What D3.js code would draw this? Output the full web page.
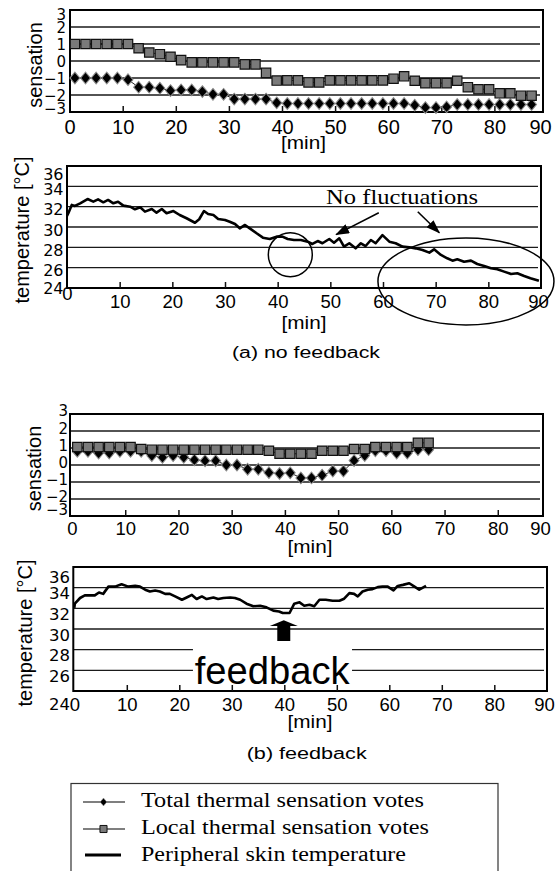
<!DOCTYPE html>
<html>
<head>
<meta charset="utf-8">
<script src="https://cdnjs.cloudflare.com/ajax/libs/d3/7.8.5/d3.min.js"></script>
<style>
  body { margin: 0; background: #fff; }
  svg text { fill: #000; }
</style>
</head>
<body>
<div id="chart"></div>
<script>
// ---- data ----
// (a) no feedback : sensation votes every 2 min
var minutesA = [1, 3, 5, 7, 9, 11, 13, 15, 17, 19, 21, 23, 25, 27, 29, 31, 33, 35, 37, 39, 41, 43,
                45, 47, 49, 51, 53, 55, 57, 59, 61, 63, 65, 67, 69, 71, 73, 75, 77, 79, 81, 83, 85, 87];
var totalA = [-1, -1, -1, -1, -1, -1.1, -1.54, -1.54, -1.6, -1.74, -1.7, -1.7, -1.8, -1.96, -1.96,
              -2.24, -2.24, -2.24, -2.24, -2.46, -2.5, -2.5, -2.5, -2.5, -2.5, -2.5, -2.5, -2.5, -2.5,
              -2.5, -2.5, -2.5, -2.6, -2.74, -2.74, -2.7, -2.56, -2.56, -2.56, -2.56, -2.56, -2.56, -2.56, -2.56];
var localA = [1, 1, 1, 1, 1, 1, 0.75, 0.5, 0.4, 0.25, 0.05, -0.08, -0.08, -0.08, -0.08, -0.08, -0.2,
              -0.2, -0.7, -1.15, -1.14, -1.14, -1.26, -1.26, -1.14, -1.14, -1.14, -1.14, -1.14, -1.14,
              -1.04, -0.9, -1.16, -1.3, -1.3, -1.3, -1.16, -1.54, -1.66, -1.66, -1.9, -1.9, -2.04, -2.04];
// (a) peripheral skin temperature
var skinTimeA = [0, 0.25, 0.9, 1.5, 2.5, 3.9, 5.0, 5.9, 6.9, 7.8, 8.8, 9.7, 10.7, 12, 12.9, 13.9, 14.8,
                 16.1, 17, 18, 18.9, 20.2, 21.4, 22.7, 24.3, 25.1, 26, 26.8, 27.8, 28.7, 30, 30.9, 31.9,
                 32.8, 33.8, 34.7, 36, 37.2, 38.5, 39.8, 40.9, 41.9, 43.1, 44.4, 45.7, 46.6, 47.6, 48.5,
                 49.8, 50.7, 51.7, 52.6, 53.6, 54.8, 55.8, 56.7, 57.7, 58.6, 59.9, 61.2, 62.4, 63.7, 65,
                 66.2, 67.5, 68.8, 69.7, 71, 72.2, 73.2, 74.1, 75.4, 76.7, 77.9, 79.2, 80.5, 81.7, 83,
                 84.3, 85.5, 86.8, 88, 89.6];
var skinTempA = [31.1, 31.35, 32.17, 32.07, 32.33, 32.75, 32.49, 32.72, 32.43, 32.66, 32.33, 32.49, 32.1,
                 32.0, 31.74, 31.94, 31.51, 31.77, 31.41, 31.77, 31.35, 31.57, 31.18, 30.86, 30.42, 30.76,
                 31.57, 31.28, 31.18, 30.79, 30.69, 30.52, 30.3, 29.87, 30.2, 29.87, 29.38, 28.95, 28.82,
                 29.05, 29.05, 28.82, 28.72, 28.72, 28.56, 28.33, 28.62, 28.4, 28.82, 28.46, 28.89, 28.07,
                 28.4, 27.9, 28.4, 28.13, 28.72, 28.4, 29.2, 28.56, 28.4, 28.07, 28.0, 27.9, 27.74, 27.48,
                 27.8, 27.25, 26.92, 26.69, 26.82, 26.59, 26.69, 26.36, 26.17, 25.94, 25.84, 25.61, 25.38,
                 25.45, 25.18, 24.96, 24.72];

// (b) feedback
var minutesB = [1, 3, 5, 7, 9, 11, 13, 15, 17, 19, 21, 23, 25, 27, 29, 31, 33, 35, 37, 39, 41, 43,
                45, 47, 49, 51, 53, 55, 57, 59, 61, 63, 65, 67];
var totalB = [0.8, 0.8, 0.7, 0.7, 0.8, 0.8, 0.8, 0.55, 0.45, 0.55, 0.45, 0.3, 0.25, 0.25, 0, 0, -0.25,
              -0.25, -0.45, -0.5, -0.46, -0.76, -0.76, -0.6, -0.36, -0.36, 0.26, 0.56, 0.84, 0.84, 0.7,
              0.7, 0.9, 0.9];
var localB = [1.06, 1.06, 1.06, 1.06, 1.06, 1.06, 0.94, 0.9, 0.9, 0.9, 0.9, 0.9, 0.9, 0.9, 0.9, 0.9,
              0.9, 0.9, 0.84, 0.66, 0.66, 0.66, 0.66, 0.84, 0.84, 0.84, 0.94, 0.94, 1.06, 1.06, 1.06,
              1.06, 1.3, 1.3];
var skinTimeB = [0, 0.1, 1.1, 2.0, 3.0, 3.9, 4.7, 5.5, 6.5, 7.75, 9.0, 10.3, 11.6, 12.5, 13.5, 14.4, 15.4,
                 16.3, 17.3, 18.2, 19.2, 20.5, 21.4, 22.4, 23.3, 24.3, 25.2, 26.5, 27.4, 28.4, 29.7, 30.6,
                 31.6, 32.8, 34.1, 35.4, 36.6, 37.9, 39.0, 39.7, 41, 41.9, 42.9, 43.8, 44.8, 45.7, 46.7,
                 47.9, 49.2, 50.5, 51.4, 52.4, 53.3, 54, 54.9, 55.9, 56.8, 57.8, 58.7, 59.7, 60.8, 61.6,
                 62.6, 63.8, 64.8, 65.7, 67];
var skinTempB = [32.04, 32.45, 33.0, 33.25, 33.25, 33.25, 33.53, 33.4, 34.1, 34.1, 34.33, 34.1, 34.17,
                 34.1, 33.8, 33.63, 33.73, 33.63, 33.4, 33.4, 33.15, 32.83, 33.05, 33.3, 32.9, 33.15, 32.9,
                 33.05, 32.9, 33.0, 33.05, 33.0, 32.83, 32.45, 32.2, 32.25, 32.1, 31.78, 31.7, 31.55, 31.55,
                 32.45, 32.58, 32.25, 32.35, 32.2, 32.83, 32.83, 32.74, 32.74, 32.93, 33.47, 33.4, 33.15,
                 33.63, 33.8, 33.86, 34.05, 34.1, 34.1, 33.73, 34.17, 34.27, 34.43, 34.1, 33.8, 34.17];

// tick labels
var sensTicks = [3, 2, 1, 0, -1, -2, -3];
var tempTicks = [36, 34, 32, 30, 28, 26, 24];
var minTicks = [0, 10, 20, 30, 40, 50, 60, 70, 80, 90];
var legendLabels = ["Total thermal sensation votes", "Local thermal sensation votes", "Peripheral skin temperature"];

var sans = "'Liberation Sans', Arial, Helvetica, sans-serif";
var serif = "'Liberation Serif', 'Times New Roman', serif";
var digits = "'DejaVu Sans', sans-serif";

var svg = d3.select("#chart").append("svg")
    .attr("width", 556)
    .attr("height", 871)
    .style("font-family", sans);

svg.append("defs").append("marker")
    .attr("id", "head")
    .attr("markerUnits", "userSpaceOnUse")
    .attr("markerWidth", 14).attr("markerHeight", 10)
    .attr("refX", 13).attr("refY", 5)
    .attr("orient", "auto")
  .append("path")
    .attr("d", "M0,0L14,5L0,10Z")
    .attr("fill", "#000");

// x axis with small inner ticks, labels below
function addXAxis(g, x, cfg) {
    var ax = g.append("g")
        .attr("transform", `translate(0,${cfg.bottom})`)
        .call(d3.axisBottom(x).tickValues(minTicks).tickFormat(d3.format("d"))
              .tickSizeInner(-6).tickSizeOuter(0).tickPadding(cfg.xPad));
    ax.attr("font-family", null).attr("font-size", null);
    ax.select(".domain").remove();
    ax.selectAll(".tick line").attr("stroke", "#111").attr("stroke-width", 1.5);
    ax.selectAll(".tick line").filter(d => d === 0 || x(d) > cfg.right - 2).remove();
    // keep the last label inside the page
    ax.selectAll(".tick text")
        .style("font-family", sans)
        .style("font-size", cfg.xFont + "px")
        .attr("dx", d => Math.min(0, cfg.right - 3 - x(d)))
        .attr("y", d => cfg.xPad + (cfg.xRaise ? cfg.xRaise(d) : 0));
}

// y axis, labels only
function addYAxis(g, y, ticks, cfg) {
    var ax = g.append("g")
        .attr("transform", `translate(${cfg.left},0)`)
        .call(d3.axisLeft(y).tickValues(ticks).tickFormat(d3.format("d")).tickSize(0).tickPadding(cfg.yPad));
    ax.attr("font-family", null).attr("font-size", null);
    ax.select(".domain").remove();
    ax.selectAll(".tick text")
        .style("font-family", digits)
        .style("font-size", cfg.yFont + "px")
        .attr("y", cfg.yShift);
}

function addGrid(g, y, values, cfg) {
    g.append("g").selectAll("line")
        .data(values)
        .enter().append("line")
        .attr("x1", cfg.left).attr("x2", cfg.right - 3)
        .attr("y1", d => y(d)).attr("y2", d => y(d))
        .attr("stroke", "#1a1a1a")
        .attr("stroke-width", 1.3);
}

function addFrame(g, cfg) {
    g.append("rect")
        .attr("x", cfg.left).attr("y", cfg.top)
        .attr("width", cfg.right - cfg.left).attr("height", cfg.bottom - cfg.top)
        .attr("fill", "none").attr("stroke", "#000").attr("stroke-width", 2);
}

function addTitles(g, cfg, title) {
    g.append("text")
        .attr("transform", `translate(${cfg.titleX},${cfg.titleY}) rotate(-90)`)
        .attr("text-anchor", "middle")
        .style("font-size", "20px")
        .text(title);
    g.append("text")
        .attr("x", cfg.minX).attr("y", cfg.minY)
        .attr("text-anchor", "middle")
        .style("font-size", "19px")
        .attr("textLength", 45).attr("lengthAdjust", "spacingAndGlyphs")
        .text("[min]");
}

function sensationPanel(cfg, minutes, total, local) {
    var g = svg.append("g");
    var x = d3.scaleLinear().domain([0, 90]).range([cfg.x0, cfg.x90]);
    var y = d3.scaleLinear().domain([-3, 3]).range([cfg.bottom, cfg.top]);

    addGrid(g, y, sensTicks.filter(d => d > -3 && d < 3), cfg);
    addFrame(g, cfg);
    addXAxis(g, x, cfg);
    addYAxis(g, y, sensTicks, cfg);
    addTitles(g, cfg, "sensation");

    var line = d3.line().x(d => x(d[0])).y(d => y(d[1]));
    var totalPts = minutes.map((m, i) => [m, total[i]]);
    var localPts = minutes.map((m, i) => [m, local[i]]);

    // total votes: black diamonds (drawn first, they sit under the squares)
    g.append("path").datum(totalPts).attr("d", line)
        .attr("fill", "none").attr("stroke", "#222").attr("stroke-width", 1);
    g.append("g").selectAll("path")
        .data(totalPts)
        .enter().append("path")
        .attr("d", d3.symbol(d3.symbolDiamond2, 70))
        .attr("transform", d => `translate(${x(d[0])},${y(d[1])}) scale(0.95,1.12)`)
        .attr("fill", "#000").attr("stroke", "#8a8a8a").attr("stroke-width", 1);

    // local votes: grey squares
    g.append("path").datum(localPts).attr("d", line)
        .attr("fill", "none").attr("stroke", "#222").attr("stroke-width", 1);
    g.append("g").selectAll("path")
        .data(localPts)
        .enter().append("path")
        .attr("d", d3.symbol(d3.symbolSquare, 88))
        .attr("transform", d => `translate(${x(d[0])},${y(d[1])})`)
        .attr("fill", "#7a7a7a").attr("stroke", "#111").attr("stroke-width", 1.2);
}

function temperaturePanel(cfg, times, temps) {
    var g = svg.append("g");
    var x = d3.scaleLinear().domain([0, 90]).range([cfg.x0, cfg.x90]);
    var y = d3.scaleLinear().domain([24, 36]).range([cfg.bottom, cfg.top]);

    addGrid(g, y, tempTicks.filter(d => d > 24 && d < 36), cfg);
    addFrame(g, cfg);
    addXAxis(g, x, cfg);
    addYAxis(g, y, tempTicks, cfg);
    addTitles(g, cfg, "temperature [\u00B0C]");

    g.append("path")
        .datum(times.map((t, i) => [t, temps[i]]))
        .attr("d", d3.line().x(d => x(d[0])).y(d => y(d[1])))
        .attr("fill", "none")
        .attr("stroke", "#000")
        .attr("stroke-width", 2.6)
        .attr("stroke-linejoin", "round");

    return {g: g, x: x, y: y};
}

function caption(text, cx, baseline, width) {
    svg.append("text")
        .attr("x", cx).attr("y", baseline)
        .attr("text-anchor", "middle")
        .style("font-size", "16px")
        .attr("textLength", width).attr("lengthAdjust", "spacingAndGlyphs")
        .text(text);
}

// ---- (a) no feedback ----
sensationPanel({left: 70, right: 543, top: 10, bottom: 112, x0: 69.6, x90: 547.5,
                xPad: 8, xFont: 20, yPad: 4, yFont: 15,
                yShift: d => d === 3 ? 5 : d === -3 ? -3 : 1,
                titleX: 41.5, titleY: 65, minX: 303.5, minY: 149},
               minutesA, totalA, localA);

var pa = temperaturePanel({left: 67, right: 541, top: 166, bottom: 288, x0: 67, x90: 541,
                xPad: 7, xFont: 18.5, yPad: 3.5, yFont: 16,
                xRaise: d => d === 0 ? -8 : 0,
                yShift: d => d === 36 ? 8 : d === 24 ? 0 : 3,
                titleX: 29, titleY: 230, minX: 304, minY: 329},
               skinTimeA, skinTempA);

// annotations: "No fluctuations"
pa.g.append("text")
    .attr("x", pa.x(49.2)).attr("y", pa.y(32.3))
    .style("font-family", serif).style("font-size", "22px")
    .attr("textLength", 152).attr("lengthAdjust", "spacingAndGlyphs")
    .text("No fluctuations");
pa.g.append("line")
    .attr("x1", pa.x(59.2)).attr("y1", pa.y(31.4))
    .attr("x2", pa.x(51.1)).attr("y2", pa.y(29.25))
    .attr("stroke", "#000").attr("stroke-width", 1.6).attr("marker-end", "url(#head)");
pa.g.append("line")
    .attr("x1", pa.x(66.6)).attr("y1", pa.y(31.5))
    .attr("x2", pa.x(70.7)).attr("y2", pa.y(29.43))
    .attr("stroke", "#000").attr("stroke-width", 1.6).attr("marker-end", "url(#head)");
pa.g.append("ellipse")
    .attr("cx", pa.x(42.4)).attr("cy", pa.y(27.28)).attr("rx", 22).attr("ry", 22)
    .attr("fill", "none").attr("stroke", "#000").attr("stroke-width", 1.5);
pa.g.append("ellipse")
    .attr("cx", pa.x(75.75)).attr("cy", pa.y(24.65)).attr("rx", 88).attr("ry", 43.5)
    .attr("fill", "none").attr("stroke", "#000").attr("stroke-width", 1.5);

caption("(a) no feedback", 306, 358, 148);

// ---- (b) feedback ----
sensationPanel({left: 70, right: 543, top: 414, bottom: 516, x0: 72, x90: 551,
                xPad: 5.5, xFont: 18.5, yPad: 2, yFont: 15,
                yShift: d => d === 3 ? -3 : d === -3 ? -6 : -2,
                titleX: 40.7, titleY: 468.5, minX: 310, minY: 553},
               minutesB, totalB, localB);

var pb = temperaturePanel({left: 73.3, right: 547, top: 567, bottom: 691, x0: 74.3, x90: 546.8,
                xPad: 7, xFont: 18.5, yPad: 3.3, yFont: 16.5,
                yShift: d => d === 36 ? 10 : d === 24 ? 13 : 6,
                titleX: 31.5, titleY: 633, minX: 310, minY: 728},
               skinTimeB, skinTempB);

// "feedback" label sitting in a white gap of the lower grid lines
pb.g.append("rect")
    .attr("x", pb.x(22.6)).attr("y", pb.y(28.9))
    .attr("width", pb.x(52.9) - pb.x(22.6)).attr("height", pb.y(24.6) - pb.y(28.9))
    .attr("fill", "#fff");
pb.g.append("text")
    .attr("x", pb.x(37.7)).attr("y", pb.y(24.7))
    .attr("text-anchor", "middle")
    .style("font-size", "38px")
    .attr("textLength", 155).attr("lengthAdjust", "spacingAndGlyphs")
    .text("feedback");
// thick up arrow
var ax0 = pb.x(39.9), tip = pb.y(30.85), base = pb.y(30.3), foot = pb.y(28.85);
pb.g.append("polygon")
    .attr("points", [[ax0, tip], [ax0 + 14, base], [ax0 + 6.5, base], [ax0 + 6.5, foot],
                     [ax0 - 6.5, foot], [ax0 - 6.5, base], [ax0 - 14, base]].join(" "))
    .attr("fill", "#000");

caption("(b) feedback", 306.7, 759, 120);

// ---- legend ----
var legend = svg.append("g");
legend.append("rect")
    .attr("x", 71).attr("y", 783.5).attr("width", 427).attr("height", 110)
    .attr("fill", "none").attr("stroke", "#333").attr("stroke-width", 1.2);

var legendWidths = [283, 288, 265];
legendLabels.forEach(function(label, i) {
    var by = 806.5 + i * 27;
    var my = by - 4.5;
    if (i < 2) {
        legend.append("line").attr("x1", 83).attr("x2", 125).attr("y1", my).attr("y2", my)
            .attr("stroke", "#000").attr("stroke-width", 1.2);
        if (i === 0) {
            legend.append("path")
                .attr("d", d3.symbol(d3.symbolDiamond2, 28))
                .attr("transform", `translate(103.5,${my}) scale(1,1.15)`)
                .attr("fill", "#000").attr("stroke", "#777").attr("stroke-width", 0.8);
        } else {
            legend.append("path")
                .attr("d", d3.symbol(d3.symbolSquare, 50))
                .attr("transform", `translate(103.5,${my})`)
                .attr("fill", "#7a7a7a").attr("stroke", "#111").attr("stroke-width", 1);
        }
    } else {
        legend.append("line").attr("x1", 85).attr("x2", 121).attr("y1", my - 1).attr("y2", my - 1)
            .attr("stroke", "#000").attr("stroke-width", 3);
    }
    legend.append("text")
        .attr("x", 141).attr("y", by)
        .style("font-family", serif).style("font-size", "20px")
        .attr("textLength", legendWidths[i]).attr("lengthAdjust", "spacingAndGlyphs")
        .text(label);
});
</script>
</body>
</html>
